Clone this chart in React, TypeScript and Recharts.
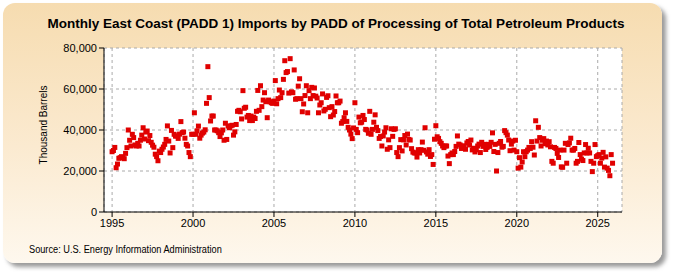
import React from 'react';
import { ScatterChart, Scatter, XAxis, YAxis, CartesianGrid } from 'recharts';

const title = 'Monthly East Coast (PADD 1) Imports by PADD of Processing of Total Petroleum Products';
const yLabel = 'Thousand Barrels';
const source = 'Source: U.S. Energy Information Administration';

const xTicks = [1995, 2000, 2005, 2010, 2015, 2020, 2025];
const yTicks = [0, 20000, 40000, 60000, 80000];

const v1995 = [29400, 30000, 31500, 21600, 23400, 26200, 26500, 27000, 26500, 26000, 28600, 31400];
const v1996 = [40000, 35000, 32200, 37900, 36300, 32700, 32200, 33500, 32200, 35000, 37500, 41100];
const v1997 = [35600, 39000, 39500, 34800, 37300, 34000, 32600, 31600, 28200, 27000, 25000, 29700];
const v1998 = [29000, 30600, 31700, 33000, 35400, 42000, 34600, 28800, 39800, 31400, 37900, 37000];
const v1999 = [37100, 35900, 38000, 44100, 38700, 39000, 36000, 33000, 32200, 29000, 27000, 37900];
const v2000 = [37900, 48400, 37900, 39600, 41900, 36000, 37500, 38500, 39000, 40100, 53000, 70900];
const v2001 = [55800, 44400, 46800, 46800, 40000, 40000, 39600, 38700, 36800, 38600, 40000, 35000];
const v2002 = [43300, 35400, 41900, 41100, 42000, 42300, 37500, 39100, 42700, 49100, 49600, 48900];
const v2003 = [45400, 59200, 50600, 51100, 46300, 47100, 44600, 46800, 44600, 46300, 45600, 49100];
const v2004 = [59300, 49600, 61600, 51400, 54600, 58200, 53800, 46000, 54600, 53800, 53300, 53000];
const v2005 = [54100, 64100, 52800, 55300, 59500, 55800, 58200, 64700, 73800, 68000, 68500, 58000];
const v2006 = [74800, 58600, 58200, 69300, 55000, 55300, 61400, 65000, 55300, 48900, 52700, 56800];
const v2007 = [61600, 48400, 59200, 55300, 60800, 56800, 60500, 56500, 55600, 48400, 52200, 53300];
const v2008 = [57600, 49300, 50100, 55900, 56700, 50900, 46500, 51400, 47300, 49000, 56600, 53300];
const v2009 = [53300, 54100, 43300, 44100, 46000, 48400, 44200, 41300, 40000, 38000, 35800, 41000];
const v2010 = [53300, 40300, 38700, 46300, 43500, 43800, 47100, 45100, 40300, 40000, 38400, 49100];
const v2011 = [37900, 40300, 43800, 47400, 41300, 39700, 35900, 36800, 32200, 37100, 39000, 41100];
const v2012 = [30600, 35200, 31400, 40600, 36900, 40300, 40600, 29000, 27000, 31400, 35300, 29800];
const v2013 = [35200, 37300, 32700, 38000, 35400, 35100, 30900, 29200, 28800, 28800, 26800, 30400];
const v2014 = [28800, 30400, 34100, 30100, 41100, 29300, 28200, 30400, 27100, 28000, 23200, 35500];
const v2015 = [42100, 36700, 35900, 34300, 33500, 32200, 31400, 32200, 32200, 27300, 23600, 28000];
const v2016 = [28800, 28000, 29500, 32000, 37100, 33100, 32700, 31000, 31600, 32300, 30600, 33700];
const v2017 = [34400, 32700, 35100, 30300, 31100, 29300, 30300, 32200, 33100, 29000, 34000, 32000];
const v2018 = [33000, 30500, 31500, 33000, 32000, 34000, 38600, 29500, 33000, 20000, 29000, 33500];
const v2019 = [34400, 31600, 32000, 39700, 38700, 37500, 35100, 29900, 33100, 34600, 30200, 35000];
const v2020 = [29400, 21400, 26500, 21900, 24400, 29400, 27000, 29400, 30200, 31500, 31000, 34300];
const v2021 = [31600, 27800, 44500, 34600, 41300, 36300, 32200, 35000, 35800, 33300, 34600, 32700];
const v2022 = [34300, 31800, 24700, 23800, 31500, 31000, 28600, 26600, 30200, 22000, 21800, 30200];
const v2023 = [33500, 23800, 32900, 33700, 36000, 30200, 30200, 31000, 23800, 24700, 33900, 28000];
const v2024 = [25800, 25100, 28800, 32900, 28800, 31100, 28800, 24700, 19700, 23800, 32900, 27000];
const v2025 = [27500, 28000, 23800, 26300, 29100, 21900, 26900, 21400, 20300, 17700, 28000, 23800];

const firstYear = 1995;
const yearly = [
  v1995, v1996, v1997, v1998, v1999, v2000, v2001, v2002, v2003, v2004, v2005,
  v2006, v2007, v2008, v2009, v2010, v2011, v2012, v2013, v2014, v2015, v2016,
  v2017, v2018, v2019, v2020, v2021, v2022, v2023, v2024, v2025,
];

const data = yearly.flatMap((vals, yi) =>
  vals.map((v, m) => ({ x: firstYear + yi + m / 12, y: v }))
);

const fmt = (v: number) => v.toLocaleString('en-US');

const Square = (props: any) => {
  const { cx, cy } = props;
  if (cx == null || cy == null) return null;
  return <rect x={cx - 2.5} y={cy - 2.5} width={5} height={5} fill="#e00000" />;
};

const font = 'Arial, "Liberation Sans", sans-serif';

export default function App() {
  return (
    <div style={{ position: 'absolute', left: 0, top: 0, width: 675, height: 275, fontFamily: font }}>
      <div
        style={{
          position: 'absolute', left: 3, top: 3, width: 659, height: 260, borderRadius: 12,
          background: 'linear-gradient(180deg, #f6dcb0 0%, #fbead0 55%, #fef8ee 100%)',
          boxShadow: '4px 4px 4px rgba(120,120,120,0.75)',
        }}
      />
      <div
        style={{
          position: 'absolute', left: 336, top: 16, transform: 'translateX(-50%)',
          fontWeight: 'bold', fontSize: 13.5, color: '#000', whiteSpace: 'nowrap', lineHeight: '16px',
        }}
      >
        {title}
      </div>
      <div
        style={{
          position: 'absolute', left: 43, top: 125, transform: 'translate(-50%, -50%) rotate(-90deg)',
          fontSize: 10, whiteSpace: 'nowrap', color: '#000',
        }}
      >
        {yLabel}
      </div>
      <div
        style={{
          position: 'absolute', left: 29, top: 244, fontSize: 10, color: '#000', whiteSpace: 'nowrap',
          transform: 'scaleX(0.92)', transformOrigin: 'left center',
        }}
      >
        {source}
      </div>
      <div style={{ position: 'absolute', left: 0, top: 0 }}>
        <ScatterChart width={675} height={275} margin={{ top: 48, right: 53, bottom: 43, left: 40 }}>
          <CartesianGrid stroke="#aaaaaa" strokeDasharray="3 3" fill="#ffffff" />
          <XAxis
            type="number" dataKey="x" domain={[1994.5, 2026.5]} ticks={xTicks}
            allowDataOverflow height={20}
            tick={{ fill: '#000', fontSize: 11, fontFamily: font }}
            stroke="#000" tickSize={5}
          />
          <YAxis
            type="number" dataKey="y" domain={[0, 80000]} ticks={yTicks} width={64}
            tickFormatter={fmt}
            tick={{ fill: '#000', fontSize: 11, fontFamily: font }}
            stroke="#000" tickSize={5}
          />
          <Scatter data={data} shape={Square} isAnimationActive={false} />
        </ScatterChart>
      </div>
    </div>
  );
}
